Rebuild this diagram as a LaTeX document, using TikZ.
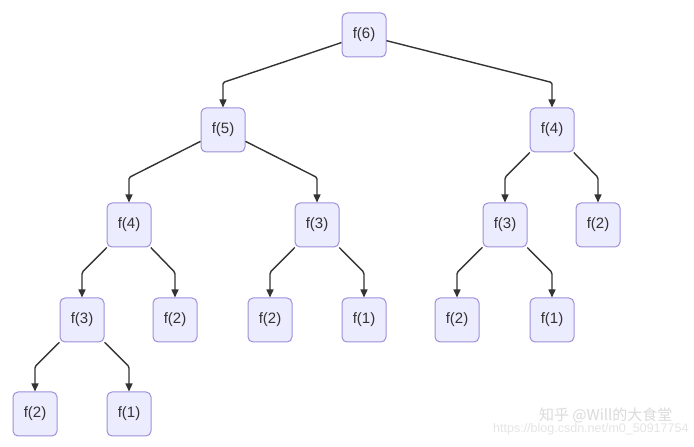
\documentclass[tikz,border=0pt]{standalone}
\usepackage{fontspec}
\setmainfont{Liberation Sans}
\newfontfamily\cjkfont{Noto Sans CJK SC}
\usetikzlibrary{calc,arrows.meta}
\definecolor{nodefill}{HTML}{ECECFF}
\definecolor{nodeline}{HTML}{9F8FDB}
\definecolor{edgecol}{HTML}{333333}
\tikzset{
  fn/.style={draw=nodeline, fill=nodefill, line width=1pt, rounded corners=5pt,
    minimum width=44pt, minimum height=44pt, inner sep=0pt, font=\fontsize{15}{17}\selectfont, text=edgecol},
  edge/.style={draw=edgecol, line width=1.4pt, rounded corners=1.5pt,
    -{Triangle[length=8pt,width=7pt]}},
  wm/.style={font=\cjkfont\fontsize{15}{17}\selectfont, text=gray!28},
  wmurl/.style={font=\fontsize{12.5}{14}\selectfont, text=gray!20}
}
\newcommand{\tedge}[2]{\draw[edge] (#1) -- ($(#2.north)+(0,25)$) -- (#2.north);}
\begin{document}
\begin{tikzpicture}[x=1pt,y=1pt]
\useasboundingbox[fill=white] (0,0) rectangle (694,447);
\node[fn] (a) at (364,412) {f(6)};
\node[fn] (b) at (223,317) {f(5)};
\node[fn] (c) at (552,317) {f(4)};
\node[fn] (d) at (129,222) {f(4)};
\node[fn] (e) at (317,222) {f(3)};
\node[fn] (f) at (505,222) {f(3)};
\node[fn] (g) at (598,222) {f(2)};
\node[fn] (h) at (82,127) {f(3)};
\node[fn] (i) at (175,127) {f(2)};
\node[fn] (j) at (270,127) {f(2)};
\node[fn] (k) at (364,127) {f(1)};
\node[fn] (l) at (457,127) {f(2)};
\node[fn] (m) at (552,127) {f(1)};
\node[fn] (n) at (35,33) {f(2)};
\node[fn] (o) at (129,33) {f(1)};
\tedge{a}{b}
\tedge{a}{c}
\tedge{b}{d}
\tedge{b}{e}
\tedge{c}{f}
\tedge{c}{g}
\tedge{d}{h}
\tedge{d}{i}
\tedge{e}{j}
\tedge{e}{k}
\tedge{f}{l}
\tedge{f}{m}
\tedge{h}{n}
\tedge{h}{o}
\node[wmurl, anchor=east] (u) at (692,18) {https://blog.csdn.net/m0\_50917754};
\node[wm, anchor=east] (w) at (676,32) {知乎 @Will的大食堂};
\end{tikzpicture}
\end{document}
